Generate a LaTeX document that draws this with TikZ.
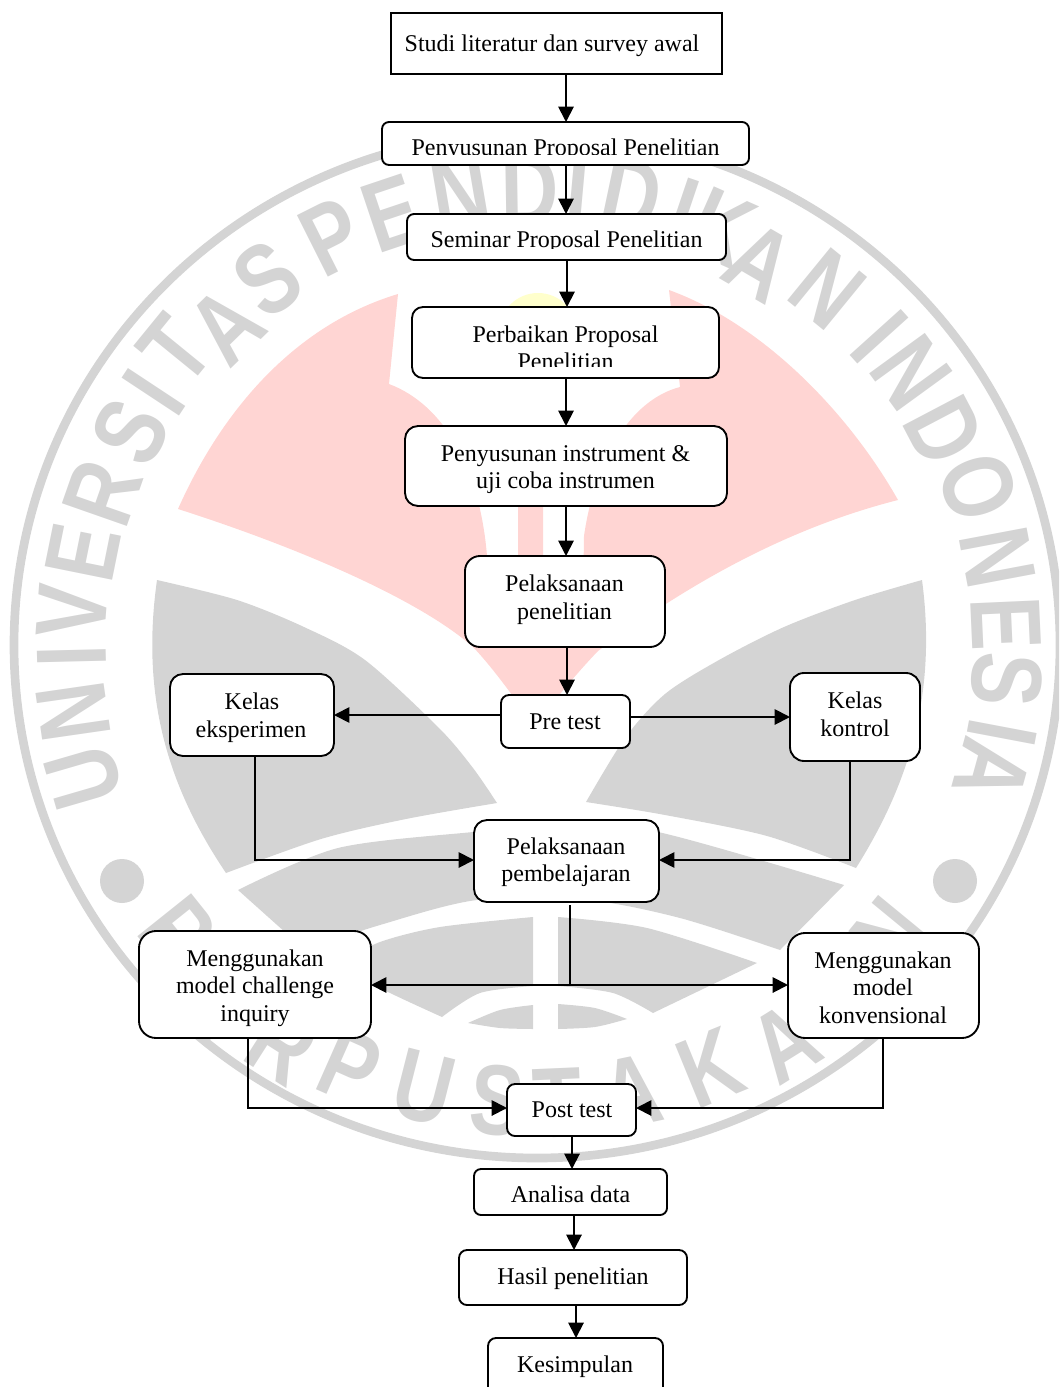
\documentclass[tikz,border=0pt]{standalone}
\usepackage{fontspec}
\setmainfont{Liberation Serif}
\newfontfamily\wmfont{Liberation Sans}
\usetikzlibrary{arrows.meta}
\definecolor{wmgray}{HTML}{D4D4D4}
\definecolor{wmpink}{HTML}{FFD5D3}
\definecolor{wmyellow}{HTML}{FFFFCC}
\tikzset{
  flowbox/.style={draw=black,fill=white,line width=1.4pt,inner sep=0pt,outer sep=0pt},
  flowtxt/.style={anchor=base,inner sep=0pt,outer sep=0pt,font=\fontsize{18}{20}\selectfont},
  conn/.style={draw=black,line width=1.4pt,-{Triangle[length=11.5pt,width=11.5pt]}},
  wmletter/.style={inner sep=0pt,outer sep=0pt,text=wmgray,font=\wmfont\bfseries\fontsize{75}{75}\selectfont},
}
\newcommand\fbx[6]{\node[flowbox,rounded corners=#6*0.75pt,minimum width={(#4-#2)*0.75pt},minimum height={(#5-#3)*0.75pt}] (#1) at ({(#2+#4)/2},{(#3+#5)/2}) {};}
\newcommand\ftx[4]{\node[flowtxt] (#1) at (#2,#3) {#4};}
\begin{document}
\begin{tikzpicture}[x=0.75pt,y=-0.75pt]
\useasboundingbox (0,0) rectangle (1059,1387);
\begin{scope}
\clip (0,0) rectangle (1059,1387);
% --- watermark
\draw[wmgray,line width=6.5pt] (537,645) ellipse [x radius=523,y radius=513];
\fill[wmyellow] (538,332) circle [radius=39];
\fill[wmpink] (398,294) .. controls (295,325) and (222,410) .. (178,509)
  .. controls (300,548) and (420,600) .. (473,647)
  .. controls (495,670) and (515,700) .. (535,725)
  .. controls (555,700) and (575,675) .. (598,651)
  .. controls (680,590) and (780,530) .. (898,500)
  .. controls (850,415) and (765,325) .. (669,290)
  -- (680,387)
  .. controls (630,400) and (595,460) .. (584,536)
  -- (583,600) -- (543,600) -- (543,470) -- (518,470) -- (518,600) -- (487,600) -- (487,556)
  .. controls (480,470) and (445,405) .. (389,384)
  -- cycle;
% grey wings
\fill[wmgray] plot[smooth] coordinates {(157,580) (237,600) (304,627) (365,660) (439,728) (473,768) (497,803)}
  -- plot[smooth] coordinates {(497,803) (406,819) (321,839) (226,873)}
  .. controls (170,790) and (140,700) .. (157,580) -- cycle;
\fill[wmgray] plot[smooth] coordinates {(922,580) (855,600) (784,627) (719,660) (665,694) (625,738) (586,802)}
  -- plot[smooth] coordinates {(586,802) (665,815) (767,836) (856,868)}
  .. controls (905,790) and (938,700) .. (922,580) -- cycle;
% bands
\fill[wmgray] plot[smooth] coordinates {(238,890) (338,848) (473,832) (560,825) (658,832) (844,885)}
  -- (780,950)
  -- plot[smooth] coordinates {(780,950) (680,918) (587,900) (477,900) (380,925) (305,950)}
  -- cycle;
\fill[wmgray] plot[smooth] coordinates {(340,963) (380,942) (440,927) (533,917)} -- (533,986)
  -- plot[smooth] coordinates {(533,986) (480,993) (442,1017)}
  -- plot[smooth] coordinates {(442,1017) (380,988) (340,963)} -- cycle;
\fill[wmgray] plot[smooth] coordinates {(558,917) (647,928) (757,963)}
  -- (653,1013)
  -- plot[smooth] coordinates {(653,1013) (613,993) (558,986)} -- cycle;
\fill[wmgray] plot[smooth] coordinates {(468,1023) (500,1010) (533,1005)} -- (533,1029)
  -- plot[smooth] coordinates {(533,1029) (500,1028) (468,1023)} -- cycle;
\fill[wmgray] plot[smooth] coordinates {(558,1004) (595,1008) (627,1019)}
  -- plot[smooth] coordinates {(627,1019) (595,1027) (558,1029)} -- cycle;
\fill[wmgray] (122,881) circle [radius=22];
\fill[wmgray] (955,881) circle [radius=22];
% ring letters
\foreach \c/\x/\y [count=\i] in {U/84/777,N/73/712,I/72/656,V/72/611,E/83/553,R/103/493,S/130/432,I/154/392,T/175/350,A/226/326,S/268/279,P/332/237,E/392/213,N/460/192,D/530/190,I/578/190,D/632/195,I/683/212,K/722/228,A/760/262,N/828/289,I/879/337,N/911/373,D/944/431,O/978/487,N/998/558,E/1006/624,S/1007/680,I/1002/733,A/992/770}{
  \pgfmathsetmacro\rr{atan2(645-\y,\x-537)-90}
  \node[wmletter,rotate=\rr] (wa\i) at (\x,\y) {\scalebox{0.8}[1]{\c}};
}
\foreach \c/\x/\y [count=\i] in {P/178/932,E/215/1000,R/282/1045,P/350/1067,U/424/1088,S/497/1101,T/557/1103,A/632/1092,K/710/1068,A/785/1043,A/845/990,N/890/935}{
  \pgfmathsetmacro\rr{atan2(645-\y,\x-537)+90}
  \node[wmletter,rotate=\rr] (wb\i) at (\x,\y) {\scalebox{0.8}[1]{\c}};
}
\end{scope}
% --- boxes
\fbx{studi}{391}{13}{722}{74}{0}
\fbx{prop}{382}{122}{749}{165}{7}
\fbx{sem}{407}{214}{726}{260}{7}
\fbx{perb}{412}{307}{719}{378}{11}
\fbx{inst}{405}{426}{727}{506}{13}
\fbx{plk}{465}{556}{665}{647}{15}
\fbx{pre}{501}{695}{630}{748}{8}
\fbx{eks}{170}{674}{334}{756}{13}
\fbx{kon}{790}{673}{920}{761}{14}
\fbx{pem}{474}{820}{659}{902}{13}
\fbx{mcl}{139}{931}{371}{1038}{17}
\fbx{mkv}{788}{933}{979}{1038}{17}
\fbx{post}{507}{1084}{636}{1136}{8}
\fbx{ana}{474}{1169}{667}{1215}{7}
\fbx{has}{459}{1250}{687}{1305}{8}
\fbx{kes}{488}{1338}{663}{1395}{8}
% --- text
\ftx{t1}{552}{51.5}{Studi literatur dan survey awal}
\begin{scope}\clip (383,123) rectangle (748,154.5);
\ftx{t2}{565.5}{155.5}{Penyusunan Proposal Penelitian}
\end{scope}
\begin{scope}\clip (408,215) rectangle (725,248.5);
\ftx{t3}{566.5}{247.5}{Seminar Proposal Penelitian}
\end{scope}
\ftx{t4}{565.5}{342}{Perbaikan Proposal}
\begin{scope}\clip (413,345) rectangle (718,366);
\ftx{t5}{565.5}{369.5}{Penelitian}
\end{scope}
\ftx{t6}{565.5}{461}{Penyusunan instrument \&}
\ftx{t7}{565.5}{488}{uji coba instrumen}
\ftx{t8}{564.5}{591}{Pelaksanaan}
\ftx{t9}{564.5}{619}{penelitian}
\ftx{t10}{252}{709}{Kelas}
\ftx{t11}{251}{737}{eksperimen}
\ftx{t12}{565}{729}{Pre test}
\ftx{t13}{855}{708}{Kelas}
\ftx{t14}{855}{736}{kontrol}
\ftx{t15}{566}{854}{Pelaksanaan}
\ftx{t16}{566}{881}{pembelajaran}
\ftx{t17}{255}{966}{Menggunakan}
\ftx{t18}{255}{993}{model challenge}
\ftx{t19}{255}{1021}{inquiry}
\ftx{t20}{883}{968}{Menggunakan}
\ftx{t21}{883}{995}{model}
\ftx{t22}{883}{1023}{konvensional}
\ftx{t23}{572}{1117}{Post test}
\ftx{t24}{570.5}{1202}{Analisa data}
\ftx{t25}{573}{1284}{Hasil penelitian}
\ftx{t26}{575}{1372}{Kesimpulan}
% --- connectors
\coordinate (ca) at (566,0);
\coordinate (cb) at (567,0);
\coordinate (cc) at (570,905);
\coordinate (cd) at (570,985);
\coordinate (ce) at (572,0);
\coordinate (cf) at (574,0);
\coordinate (cg) at (576,0);
\draw[conn] (studi.south -| ca) -- (prop.north -| ca);
\draw[conn] (prop.south -| ca) -- (sem.north -| ca);
\draw[conn] (sem.south -| cb) -- (perb.north -| cb);
\draw[conn] (perb.south -| ca) -- (inst.north -| ca);
\draw[conn] (inst.south -| ca) -- (plk.north -| ca);
\draw[conn] (plk.south -| cb) -- (pre.north -| cb);
\coordinate (cl) at (0,715);
\coordinate (cr) at (0,717);
\draw[conn] (pre.west |- cl) -- (eks.east |- cl);
\draw[conn] (pre.east |- cr) -- (kon.west |- cr);
\coordinate (ck) at (255,860);
\coordinate (cm) at (850,860);
\draw[conn] (eks.south -| ck) -- (ck) -- (pem.west |- ck);
\draw[conn] (kon.south -| cm) -- (cm) -- (pem.east |- cm);
\draw[line width=1.4pt] (cc) -- (cd);
\draw[conn] (cd) -- (mcl.east |- cd);
\draw[conn] (cd) -- (mkv.west |- cd);
\coordinate (cn) at (248,1108);
\coordinate (co) at (883,1108);
\draw[conn] (mcl.south -| cn) -- (cn) -- (post.west |- cn);
\draw[conn] (mkv.south -| co) -- (co) -- (post.east |- co);
\draw[conn] (post.south -| ce) -- (ana.north -| ce);
\draw[conn] (ana.south -| cf) -- (has.north -| cf);
\draw[conn] (has.south -| cg) -- (kes.north -| cg);
\end{tikzpicture}
\end{document}
